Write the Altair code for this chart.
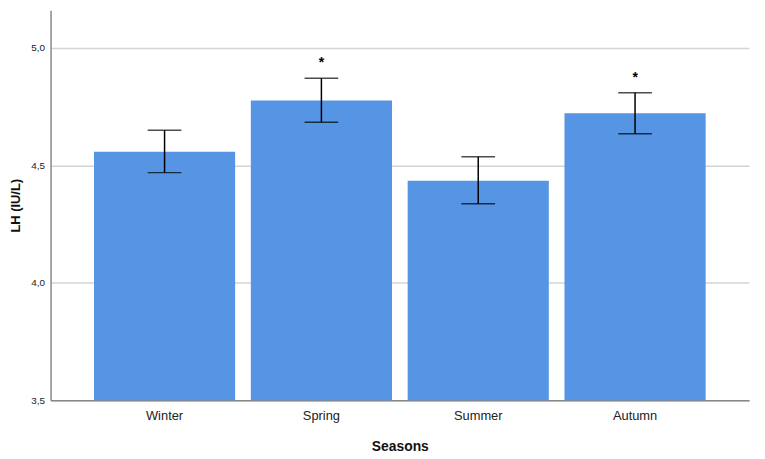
import altair as alt
import pandas as pd

seasons = ["Winter", "Spring", "Summer", "Autumn"]
means = [4.558, 4.776, 4.434, 4.722]
err_lo = [4.469, 4.684, 4.336, 4.635]
err_hi = [4.649, 4.871, 4.537, 4.809]
sig = ["", "*", "", "*"]
y_ticks = [3.5, 4.0, 4.5, 5.0]
y_base = 3.5

df = pd.DataFrame({"season": seasons, "mean": means, "lo": err_lo, "hi": err_hi, "sig": sig})

FONT = "Liberation Sans"

x = alt.X("season:N", sort=seasons, title="Seasons",
          scale=alt.Scale(paddingInner=0.1, paddingOuter=0.277),
          axis=alt.Axis(labelAngle=0, ticks=False, labelPadding=10, labelFontSize=13,
                        labelColor="#222", titleFontSize=14, titleFontWeight="bold",
                        titleColor="#111", titlePadding=17, domainColor="#888",
                        domainWidth=1.5, labelFont=FONT, titleFont=FONT, grid=False))
yscale = alt.Scale(domain=[3.5, 5.16], nice=False, zero=False)

bars = alt.Chart(df).mark_bar(color="#5694e4").encode(
    x=x,
    y=alt.Y("mean:Q", scale=yscale, title="LH (IU/L)",
            axis=alt.Axis(values=y_ticks, ticks=False, grid=True, gridColor="#d4d4d4",
                          gridWidth=1.5, domainColor="#888", domainWidth=1.5,
                          labelExpr="replace(format(datum.value, '.1f'), '.', ',')",
                          labelFontSize=10, labelColor="#222", labelPadding=6,
                          titleFontSize=13, titleFontWeight="bold", titleColor="#111",
                          titlePadding=8, labelFont=FONT, titleFont=FONT)),
    y2=alt.datum(y_base),
)

rule = alt.Chart(df).mark_rule(color="black", strokeWidth=1.5).encode(
    x=alt.X("season:N", sort=seasons), y=alt.Y("lo:Q", scale=yscale), y2="hi:Q")

cap_lo = alt.Chart(df).mark_tick(color="black", orient="horizontal", size=34, thickness=1.5).encode(
    x=alt.X("season:N", sort=seasons), y=alt.Y("lo:Q", scale=yscale))
cap_hi = alt.Chart(df).mark_tick(color="black", orient="horizontal", size=34, thickness=1.5).encode(
    x=alt.X("season:N", sort=seasons), y=alt.Y("hi:Q", scale=yscale))

stars = alt.Chart(df).mark_text(dy=-15, fontSize=14, fontWeight="bold", color="black",
                                font=FONT, baseline="middle").encode(
    x=alt.X("season:N", sort=seasons), y=alt.Y("hi:Q", scale=yscale), text="sig:N")

chart = alt.layer(bars, rule, cap_lo, cap_hi, stars).properties(
    width=706, height=394,
    autosize=alt.AutoSizeParams(type="none"),
    padding={"left": 43, "top": 0, "right": 8, "bottom": 52},
).configure_view(stroke=None)

chart.save("out.html", embed_options={"renderer": "svg", "actions": False})
